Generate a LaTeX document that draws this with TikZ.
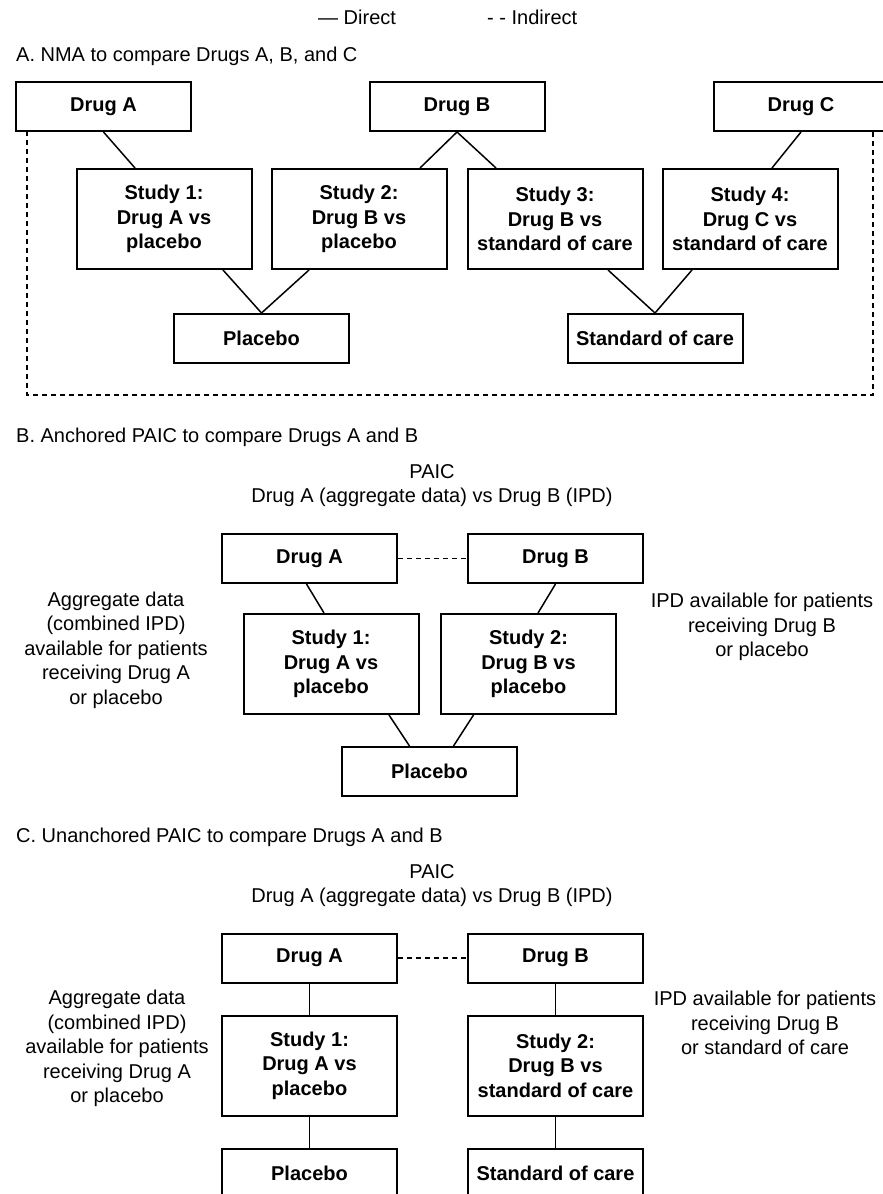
\documentclass[tikz,border=0pt]{standalone}
\usepackage{fontspec}
\setmainfont{Liberation Sans}
\newcommand\testo{\fontsize{20}{24.5}\selectfont}
\begin{document}
\begin{tikzpicture}[x=1pt,y=-1pt,
    box/.style={draw,line width=2pt,fill=white,inner sep=0pt,minimum width=175pt,align=center,font=\testo\bfseries},
    drugbox/.style={box,minimum height=49pt},
    studybox/.style={box,minimum height=100pt},
    diretto/.style={line width=1.5pt},
    indiretto/.style={line width=1.7pt,dash pattern=on 5pt off 4pt},
    nota/.style={align=center,inner sep=0pt,font=\testo},
    titolo/.style={anchor=west,inner sep=0pt,font=\testo}]
  \useasboundingbox (0,0) rectangle (883,1194);
  %legenda
  \node[titolo] (dir) at (318,17) {— Direct};
  \node[titolo] (ind) at (487,17) {- - Indirect};
  %parte A
  \node[titolo] (tA) at (16,56) {A. NMA to compare Drugs A, B, and C};
  \draw[indiretto] (27,131) |- (873,395) -- (873,131);
  \node[drugbox] (aA) at (103.5,106.5) {Drug A};
  \node[drugbox] (aB) at (457,106.5) {Drug B};
  \node[drugbox] (aC) at (801,106.5) {Drug C};
  \node[studybox] (aS1) at (164,219) {Study 1:\\Drug A vs\\placebo};
  \node[studybox] (aS2) at (359,219) {Study 2:\\Drug B vs\\placebo};
  \node[studybox] (aS3) at (555,219) {Study 3:\\Drug B vs\\standard of care};
  \node[studybox] (aS4) at (750,219) {Study 4:\\Drug C vs\\standard of care};
  \node[drugbox] (aP) at (261.5,338.5) {Placebo};
  \node[drugbox] (aSoc) at (655,338.5) {Standard of care};
  \draw[diretto] (aA.south) -- ([xshift=-29]aS1.north);
  \draw[diretto] (aB.south) -- ([xshift=61]aS2.north);
  \draw[diretto] (aB.south) -- ([xshift=-59]aS3.north);
  \draw[diretto] (aC.south) -- ([xshift=22]aS4.north);
  \draw[diretto] ([xshift=59]aS1.south) -- (aP.north);
  \draw[diretto] ([xshift=-50]aS2.south) -- (aP.north);
  \draw[diretto] ([xshift=53]aS3.south) -- (aSoc.north);
  \draw[diretto] ([xshift=-58]aS4.south) -- (aSoc.north);
  %parte B
  \node[titolo] (tB) at (16,437) {B. Anchored PAIC to compare Drugs A and B};
  \node[nota] (pB) at (432,485.5) {PAIC\\Drug A (aggregate data) vs Drug B (IPD)};
  \node[drugbox] (bA) at (309.5,558.5) {Drug A};
  \node[drugbox] (bB) at (555.5,558.5) {Drug B};
  \node[studybox] (bS1) at (331,664) {Study 1:\\Drug A vs\\placebo};
  \node[studybox] (bS2) at (528.5,664) {Study 2:\\Drug B vs\\placebo};
  \node[drugbox] (bP) at (429.5,771.5) {Placebo};
  \node[nota] (bL) at (116,650) {Aggregate data\\(combined IPD)\\available for patients\\receiving Drug A\\or placebo};
  \node[nota] (bR) at (762,627) {IPD available for patients\\receiving Drug B\\or placebo};
  \draw[indiretto] (bA.east) -- (bB.west);
  \draw[diretto] ([xshift=-3]bA.south) -- ([xshift=-7]bS1.north);
  \draw[diretto] (bB.south) -- ([xshift=9.5]bS2.north);
  \draw[diretto] ([xshift=58]bS1.south) -- ([xshift=-20]bP.north);
  \draw[diretto] ([xshift=-55]bS2.south) -- ([xshift=24]bP.north);
  %parte C
  \node[titolo] (tC) at (16,837) {C. Unanchored PAIC to compare Drugs A and B};
  \node[nota] (pC) at (432,885.5) {PAIC\\Drug A (aggregate data) vs Drug B (IPD)};
  \node[drugbox] (cA) at (309.5,958) {Drug A};
  \node[drugbox] (cB) at (555.5,958) {Drug B};
  \node[studybox] (cS1) at (309.5,1065.5) {Study 1:\\Drug A vs\\placebo};
  \node[studybox] (cS2) at (555.5,1065.5) {Study 2:\\Drug B vs\\standard of care};
  \node[drugbox] (cP) at (309.5,1173) {Placebo};
  \node[drugbox] (cSoc) at (555.5,1173) {Standard of care};
  \node[nota] (cL) at (117,1048.5) {Aggregate data\\(combined IPD)\\available for patients\\receiving Drug A\\or placebo};
  \node[nota] (cR) at (765,1023) {IPD available for patients\\receiving Drug B\\or standard of care};
  \draw[indiretto] (cA.east) -- (cB.west);
  \draw[diretto] (cA.south) -- (cS1.north);
  \draw[diretto] (cB.south) -- (cS2.north);
  \draw[diretto] (cS1.south) -- (cP.north);
  \draw[diretto] (cS2.south) -- (cSoc.north);
\end{tikzpicture}
\end{document}
